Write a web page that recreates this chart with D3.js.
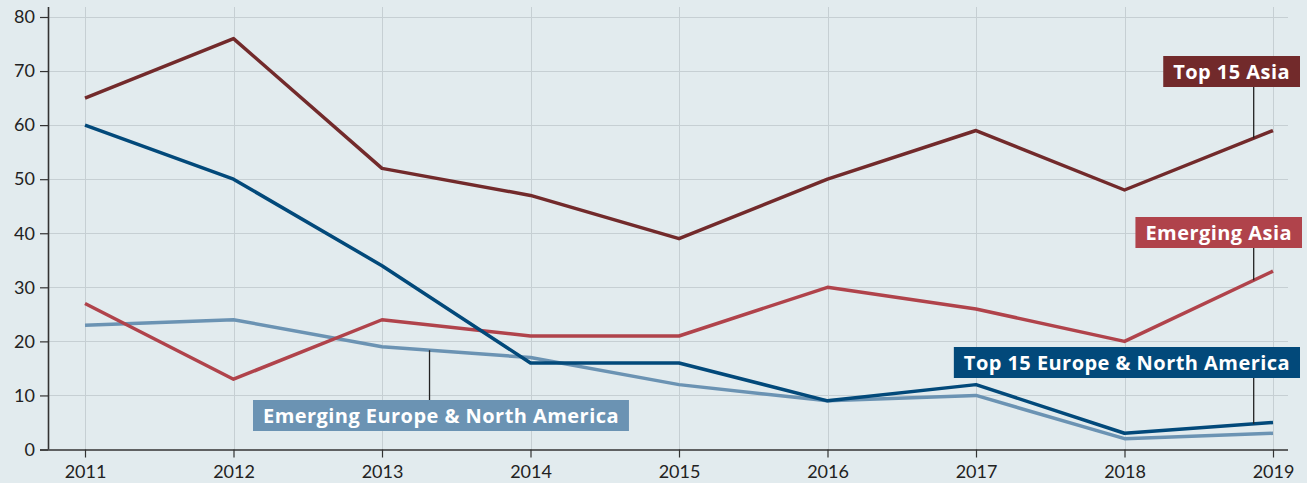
<!DOCTYPE html>
<html>
<head>
<meta charset="utf-8">
<script src="https://cdn.jsdelivr.net/npm/d3@7"></script>
<style>
  html, body { margin: 0; padding: 0; background: #e2ebee; }
  svg { display: block; }
  .tick text { font-family: Lato, "Noto Sans", sans-serif; font-size: 18px; fill: #222; }
</style>
</head>
<body>
<script>
const width = 1307;
const height = 483;

// data
const years = [2011, 2012, 2013, 2014, 2015, 2016, 2017, 2018, 2019];
const top15Asia = [65, 76, 52, 47, 39, 50, 59, 48, 59];
const top15EuropeNA = [60, 50, 34, 16, 16, 9, 12, 3, 5];
const emergingAsia = [27, 13, 24, 21, 21, 30, 26, 20, 33];
const emergingEuropeNA = [23, 24, 19, 17, 12, 9, 10, 2, 3];
const yTicks = [0, 10, 20, 30, 40, 50, 60, 70, 80];

const series = [
  {name: "Emerging Europe & North America", values: emergingEuropeNA, color: "#6b93b3"},
  {name: "Emerging Asia", values: emergingAsia, color: "#b0434b"},
  {name: "Top 15 Europe & North America", values: top15EuropeNA, color: "#02497a"},
  {name: "Top 15 Asia", values: top15Asia, color: "#722a2b"}
];

// where each label box sits and the year its leader line points at
const labels = {
  "Top 15 Asia": {at: 2018.87, right: 1300, top: 56},
  "Emerging Asia": {at: 2018.87, right: 1302, top: 217},
  "Top 15 Europe & North America": {at: 2018.87, right: 1300, top: 347},
  "Emerging Europe & North America": {at: 2013.32, left: 253, top: 400}
};

const margin = {top: 17, right: 34, bottom: 33.5, left: 48};

const x = d3.scaleLinear()
  .domain([2011, 2019])
  .range([85, 1273]);

const y = d3.scaleLinear()
  .domain([0, 80])
  .range([height - margin.bottom, margin.top]);

const svg = d3.select("body").append("svg")
  .attr("width", width)
  .attr("height", height);

// grid
const grid = svg.append("g").attr("stroke", "#c6cfd3").attr("stroke-width", 1);
grid.selectAll(".hg")
  .data(yTicks.slice(1))
  .join("line")
    .attr("x1", margin.left)
    .attr("x2", 1288)
    .attr("y1", d => Math.round(y(d)) + 0.5)
    .attr("y2", d => Math.round(y(d)) + 0.5);
grid.selectAll(".vg")
  .data(years)
  .join("line")
    .attr("x1", d => Math.round(x(d)) + 0.5)
    .attr("x2", d => Math.round(x(d)) + 0.5)
    .attr("y1", 7)
    .attr("y2", y(0));

// axes
const xAxis = svg.append("g")
  .attr("transform", `translate(0,${y(0)})`)
  .call(d3.axisBottom(x).tickValues(years).tickFormat(d3.format("d")).tickSize(8).tickPadding(8));
xAxis.select(".domain").attr("d", `M40,0.5H1288`);

const yAxis = svg.append("g")
  .attr("transform", `translate(${margin.left},0)`)
  .call(d3.axisLeft(y).tickValues(yTicks).tickSize(8).tickPadding(5));
yAxis.select(".domain").attr("d", `M0.5,7V${y(0)}`);

svg.selectAll(".domain").attr("stroke", "#333").attr("stroke-width", 1.6);
svg.selectAll(".tick line").attr("stroke", "#333").attr("stroke-width", 1.2);

// lines
const line = d3.line()
  .x((d, i) => x(years[i]))
  .y(d => y(d));

svg.append("g")
  .selectAll("path")
  .data(series)
  .join("path")
    .attr("fill", "none")
    .attr("stroke", d => d.color)
    .attr("stroke-width", 3.5)
    .attr("stroke-linejoin", "round")
    .attr("d", d => line(d.values));

// labels
function valueAt(values, yr) {
  const i = Math.min(Math.floor(yr - years[0]), values.length - 2);
  const t = yr - years[i];
  return values[i] + (values[i + 1] - values[i]) * t;
}

const boxH = 31;
const padX = 10;
series.forEach(s => {
  const cfg = labels[s.name];
  const g = svg.append("g");
  const txt = g.append("text")
    .attr("font-family", "'Open Sans', 'Noto Sans', sans-serif")
    .attr("font-weight", "bold")
    .attr("font-size", 20)
    .attr("letter-spacing", 0.45)
    .attr("fill", "#fff")
    .text(s.name);
  const w = txt.node().getComputedTextLength();
  const left = cfg.left !== undefined ? cfg.left : cfg.right - w - 2 * padX;
  txt.attr("x", left + padX).attr("y", cfg.top + 22.5);
  g.insert("rect", "text")
    .attr("x", left)
    .attr("y", cfg.top)
    .attr("width", w + 2 * padX)
    .attr("height", boxH)
    .attr("fill", s.color);
  const px = x(cfg.at);
  const py = y(valueAt(s.values, cfg.at));
  const ly = py < cfg.top ? cfg.top : cfg.top + boxH;
  svg.append("line")
    .attr("x1", px).attr("x2", px)
    .attr("y1", ly).attr("y2", py)
    .attr("stroke", "#222")
    .attr("stroke-width", 1.3);
});
</script>
</body>
</html>
